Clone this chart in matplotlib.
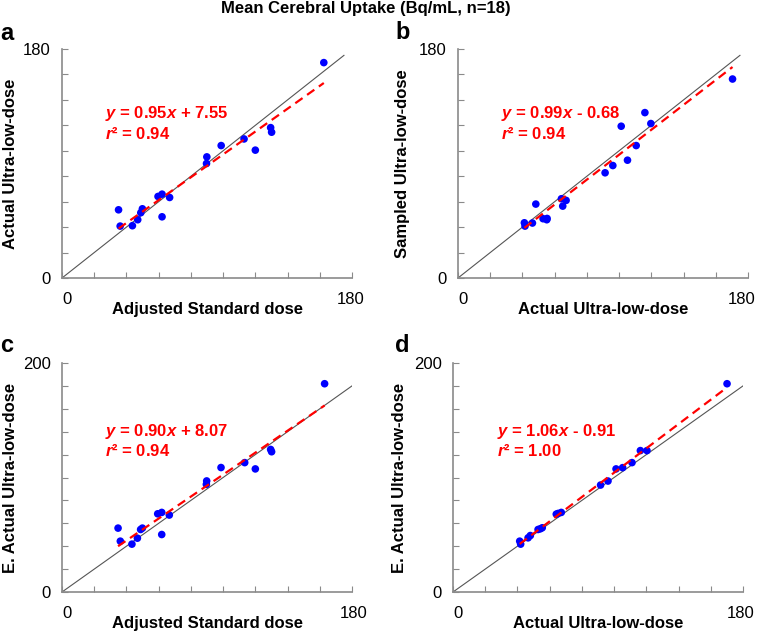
import numpy as np
import matplotlib
matplotlib.use("Agg")
import matplotlib.pyplot as plt
from matplotlib.transforms import ScaledTranslation

plt.rcParams['font.family'] = ['Liberation Sans', 'DejaVu Sans']
plt.rcParams['mathtext.fontset'] = 'custom'
plt.rcParams['mathtext.rm'] = 'Liberation Sans'
plt.rcParams['mathtext.bf'] = 'Liberation Sans:bold'
plt.rcParams['mathtext.it'] = 'Liberation Sans:italic'
plt.rcParams['mathtext.bfit'] = 'Liberation Sans:italic:bold'

# panel a: adjusted standard dose vs actual ultra-low-dose
a_x = [162.5, 35.1, 36.1, 43.7, 47.0, 48.9, 49.9, 59.6, 62.1, 66.8, 62.1,
       89.7, 89.9, 98.8, 113.0, 120.0, 129.5, 130.1]
a_y = [169.3, 53.6, 40.8, 41.1, 45.8, 51.3, 54.4, 64.1, 65.9, 63.3, 48.1,
       90.0, 95.2, 104.1, 109.3, 100.5, 118.2, 114.6]

# panel b: actual ultra-low-dose vs sampled ultra-low-dose
b_x = [170.4, 41.2, 41.6, 46.2, 48.3, 52.8, 55.1, 55.3, 64.2, 65.0, 67.1,
       91.3, 96.1, 101.3, 105.2, 110.6, 116.0, 119.7]
b_y = [156.4, 43.4, 40.8, 43.2, 58.1, 46.6, 45.8, 46.8, 62.3, 56.5, 61.0,
       82.7, 88.4, 119.3, 92.6, 104.1, 130.0, 121.4]

# panel c: adjusted standard dose vs estimated actual ultra-low-dose
c_x = [163.0, 34.8, 36.2, 43.4, 46.8, 48.8, 49.9, 59.4, 61.9, 66.6, 61.9,
       89.6, 89.8, 98.7, 113.4, 120.0, 129.5, 130.1]
c_y = [181.9, 55.8, 44.4, 41.8, 47.0, 54.6, 55.8, 68.3, 69.5, 67.2, 50.2,
       94.0, 97.0, 108.7, 113.0, 107.5, 124.5, 122.5]

# panel d: actual ultra-low-dose vs estimated actual ultra-low-dose
d_x = [170.1, 41.4, 42.0, 46.6, 48.0, 52.8, 54.2, 55.4, 64.1, 65.2, 67.2,
       91.6, 96.2, 101.2, 105.3, 111.1, 116.3, 120.4]
d_y = [181.9, 44.4, 41.8, 47.3, 49.3, 54.6, 55.2, 56.1, 68.0, 68.6, 69.5,
       93.4, 96.9, 107.5, 108.6, 113.0, 123.5, 123.5]

panel_letters = ["a", "b", "c", "d"]
x_labels = ["Adjusted Standard dose", "Actual Ultra-low-dose",
            "Adjusted Standard dose", "Actual Ultra-low-dose"]
y_labels = ["Actual Ultra-low-dose", "Sampled Ultra-low-dose",
            "E. Actual Ultra-low-dose", "E. Actual Ultra-low-dose"]
equations = [("0.95", "+ 7.55", "0.94"), ("0.99", "- 0.68", "0.94"),
             ("0.90", "+ 8.07", "0.94"), ("1.06", "- 0.91", "1.00")]
y_max = [180, 180, 200, 200]
identity_end = [175, 175, 180, 180]

data = [(a_x, a_y), (b_x, b_y), (c_x, c_y), (d_x, d_y)]

fig = plt.figure(figsize=(7.58, 6.32), dpi=100)

W, H = 758, 632
boxes = [(62, 49, 352, 278), (458, 49, 748, 278),
         (62, 363, 352, 592), (453, 363, 743, 592)]
eq_pos = [(0.147, 0.700, 0.609), (0.149, 0.700, 0.609),
          (0.147, 0.683, 0.594), (0.153, 0.683, 0.594)]
ylab_x = [-0.152, -0.165, -0.152, -0.157]
letter_pos = [(0, 40), (395, 39), (0, 352), (395, 352)]
# horizontal nudge (px) of the "180" x tick label
end_shift = [-1, -6.5, 2, -2]

gray = "#8a8a8a"

for i in range(4):
    l, t, r, b = boxes[i]
    ax = fig.add_axes([l / W, 1 - b / H, (r - l) / W, (b - t) / H])
    xs, ys = data[i]

    ax.plot([0, identity_end[i]], [0, identity_end[i]], color="#555555", lw=0.8, zorder=1)
    ax.scatter(xs, ys, s=30, color="#0000ff", marker="o", edgecolors="none", zorder=2)

    k, m = np.polyfit(xs, ys, 1)
    fx = np.array([min(xs), max(xs)])
    ax.plot(fx, k * fx + m, color="#ff0000", lw=1.6, ls=(0, (4, 2.5)), zorder=3)

    slope, icpt, r2 = equations[i]
    ex, ey1, ey2 = eq_pos[i]
    ax.text(ex, ey1, f"$\\bfit{{y}}$ = {slope}$\\bfit{{x}}$ {icpt}", transform=ax.transAxes,
            color="#ff0000", fontsize=12, fontweight="bold", va="baseline")
    ax.text(ex, ey2, f"$\\bfit{{r}}$\u00b2 = {r2}", transform=ax.transAxes,
            color="#ff0000", fontsize=12, fontweight="bold", va="baseline")

    ax.set_xlim(0, 180)
    ax.set_ylim(0, y_max[i])
    ax.set_xticks(range(0, 181, 20))
    ax.set_xticklabels(["0"] + [""] * 8 + ["180"])
    yt = list(range(0, y_max[i] + 1, 20))
    ax.set_yticks(yt)
    ax.set_yticklabels(["0"] + [""] * (len(yt) - 2) + [str(y_max[i])])

    for s in ["top", "right"]:
        ax.spines[s].set_visible(False)
    for s in ["left", "bottom"]:
        ax.spines[s].set_color(gray)
        ax.spines[s].set_linewidth(1.2)
    ax.tick_params(axis="x", direction="in", length=4, color=gray, labelsize=12, pad=10)
    ax.tick_params(axis="y", direction="in", length=4, color=gray, labelsize=12, pad=8)

    xl = ax.get_xticklabels()
    xl[0].set_transform(xl[0].get_transform() + ScaledTranslation(5 / 100, 0, fig.dpi_scale_trans))
    xl[-1].set_transform(xl[-1].get_transform()
                         + ScaledTranslation(end_shift[i] / 100, 0, fig.dpi_scale_trans))

    ax.set_xlabel(x_labels[i], fontsize=12, fontweight="bold")
    ax.xaxis.set_label_coords(0.5, -0.105)
    ax.set_ylabel(y_labels[i], fontsize=12, fontweight="bold")
    ax.yaxis.set_label_coords(ylab_x[i], 0.5)

    lx, ly = letter_pos[i]
    fig.text(lx / W, 1 - ly / H, panel_letters[i], fontsize=17, fontweight="bold",
             va="baseline", ha="left")

fig.text(366 / W, 1 - 9 / H, "Mean Cerebral Uptake (Bq/mL, n=18)", fontsize=12,
         fontweight="bold", ha="center", va="center")

fig.savefig("out.png", dpi=100)
